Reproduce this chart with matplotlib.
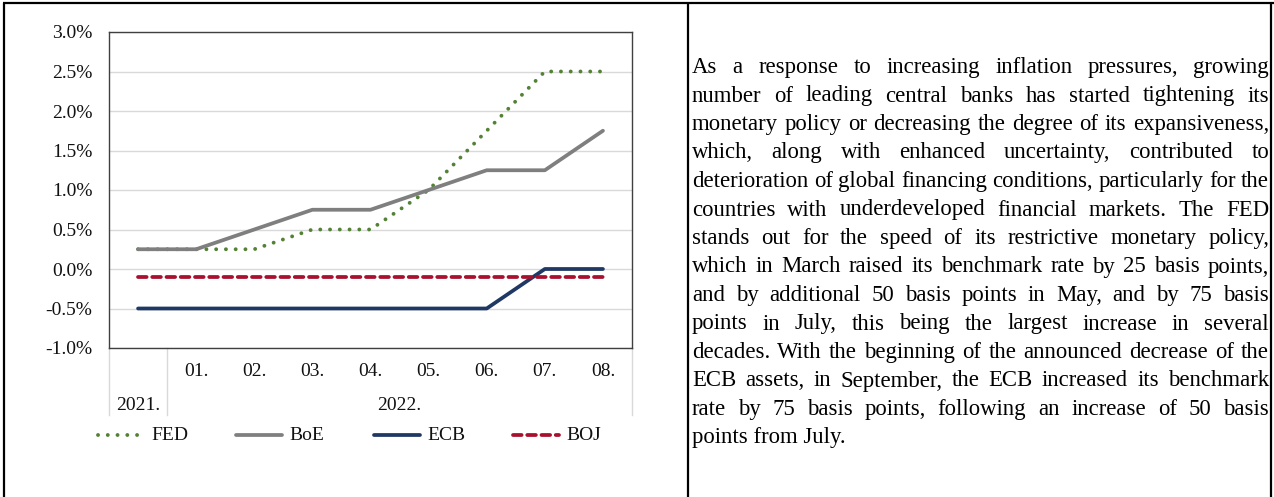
import matplotlib
matplotlib.use("Agg")
import matplotlib.pyplot as plt
from matplotlib.lines import Line2D
from matplotlib.transforms import blended_transform_factory
import numpy as np

plt.rcParams['font.family'] = ['Liberation Serif', 'DejaVu Serif']

# ---- data ----
months = ["", "01.", "02.", "03.", "04.", "05.", "06.", "07.", "08."]
years = ["2021.", "2022."]
fed = [0.25, 0.25, 0.25, 0.50, 0.50, 1.00, 1.75, 2.50, 2.50]
boe = [0.25, 0.25, 0.50, 0.75, 0.75, 1.00, 1.25, 1.25, 1.75]
ecb = [-0.50, -0.50, -0.50, -0.50, -0.50, -0.50, -0.50, 0.00, 0.00]
boj = [-0.10, -0.10, -0.10, -0.10, -0.10, -0.10, -0.10, -0.10, -0.10]
series_names = ["FED", "BoE", "ECB", "BOJ"]
yticks = [-1.0, -0.5, 0.0, 0.5, 1.0, 1.5, 2.0, 2.5, 3.0]

paragraph_lines = [
    "As a response to increasing inflation pressures, growing",
    "number of leading central banks has started tightening its",
    "monetary policy or decreasing the degree of its expansiveness,",
    "which, along with enhanced uncertainty, contributed to",
    "deterioration of global financing conditions, particularly for the",
    "countries with underdeveloped financial markets. The FED",
    "stands out for the speed of its restrictive monetary policy,",
    "which in March raised its benchmark rate by 25 basis points,",
    "and by additional 50 basis points in May, and by 75 basis",
    "points in July, this being the largest increase in several",
    "decades. With the beginning of the announced decrease of the",
    "ECB assets, in September, the ECB increased its benchmark",
    "rate by 75 basis points, following an increase of 50 basis",
    "points from July.",
]

W, H = 1274, 497
fig = plt.figure(figsize=(W / 100, H / 100), dpi=100)
fig.patch.set_facecolor("white")

def fx(px):
    return px / W

def fy(py):
    return 1 - py / H

TXT = "#111111"
FS = 14

# ---- axes ----
ax_l, ax_r, ax_t, ax_b = 109, 632, 32, 348
ax = fig.add_axes([fx(ax_l), fy(ax_b), (ax_r - ax_l) / W, (ax_b - ax_t) / H])
x = np.arange(len(months))

colors = {"FED": "#548235", "BoE": "#7f7f7f", "ECB": "#203864", "BOJ": "#a8102d"}
styles = {
    "FED": dict(linestyle=(0, (0.01, 2.5)), linewidth=2.8, dash_capstyle="round"),
    "BoE": dict(linestyle="-", linewidth=2.7, solid_capstyle="round"),
    "ECB": dict(linestyle="-", linewidth=2.7, solid_capstyle="round"),
    "BOJ": dict(linestyle=(0, (2.3, 1.5)), linewidth=2.7, dash_capstyle="round"),
}
data = {"FED": fed, "BoE": boe, "ECB": ecb, "BOJ": boj}
for k, name in enumerate(series_names):
    ax.plot(x, data[name], color=colors[name], zorder=3 + k, **styles[name])

ax.set_xlim(-0.5, len(months) - 0.5)
ax.set_ylim(-1.0, 3.0)
ax.set_yticks(yticks)
ax.set_yticklabels([f"{v:.1f}%" for v in yticks], fontsize=FS, color=TXT)
ax.tick_params(axis="y", length=0, pad=12)
ax.set_xticks([])
ax.grid(axis="y", color="#d9d9d9", linewidth=1.0, zorder=0)
for s in ax.spines.values():
    s.set_color("#404040")
    s.set_linewidth(1.0)

# category labels
trans = blended_transform_factory(ax.transData, fig.transFigure)
for i, m in enumerate(months):
    ax.text(i, fy(371), m, transform=trans, ha="center", va="center",
            fontsize=FS, color=TXT, clip_on=False)
ax.text(0, fy(406), years[0], transform=trans, ha="center", va="center",
        fontsize=FS, color=TXT, clip_on=False)
ax.text((1 + len(months) - 1) / 2, fy(406), years[1], transform=trans,
        ha="center", va="center", fontsize=FS, color=TXT, clip_on=False)
for xs in [-0.5, 0.5, len(months) - 0.5]:
    ax.add_line(Line2D([xs, xs], [fy(ax_b), fy(415)], transform=trans,
                       color="#d9d9d9", linewidth=1.0, clip_on=False))

# ---- legend ----
leg_y = 435
leg_x = {"FED": 98, "BoE": 236, "ECB": 374, "BOJ": 513}
for name in series_names:
    x0 = leg_x[name]
    fig.add_artist(Line2D([fx(x0), fx(x0 + 46)], [fy(leg_y), fy(leg_y)],
                          color=colors[name], **styles[name]))
    fig.text(fx(x0 + 53), fy(leg_y), name, ha="left", va="center",
             fontsize=FS, color=TXT)

# ---- table borders ----
for (xa, ya, xb, yb) in [(3, 3, W, 3), (4, 3, 4, H), (688, 3, 688, H), (1271, 3, 1271, H)]:
    fig.add_artist(Line2D([fx(xa), fx(xb)], [fy(ya), fy(yb)], color="black",
                          linewidth=1.6, solid_capstyle="butt"))

# ---- justified paragraph ----
fig.canvas.draw()
renderer = fig.canvas.get_renderer()
tx0, tx1 = 692, 1269
base0, step = 73, 28.5
fs = 16.4
for li, line in enumerate(paragraph_lines):
    words = line.split(" ")
    yb_ = fy(base0 + li * step)
    if li == len(paragraph_lines) - 1:
        fig.text(fx(tx0), yb_, line, ha="left", va="baseline", fontsize=fs, color="black")
        continue
    widths = []
    for w in words:
        t = fig.text(0, 0, w, fontsize=fs)
        widths.append(t.get_window_extent(renderer).width)
        t.remove()
    gap = (tx1 - tx0 - sum(widths)) / (len(words) - 1)
    cx = tx0
    for w, wd in zip(words, widths):
        fig.text(fx(cx), yb_, w, ha="left", va="baseline", fontsize=fs, color="black")
        cx += wd + gap

fig.savefig("out.png", dpi=100, facecolor="white")
